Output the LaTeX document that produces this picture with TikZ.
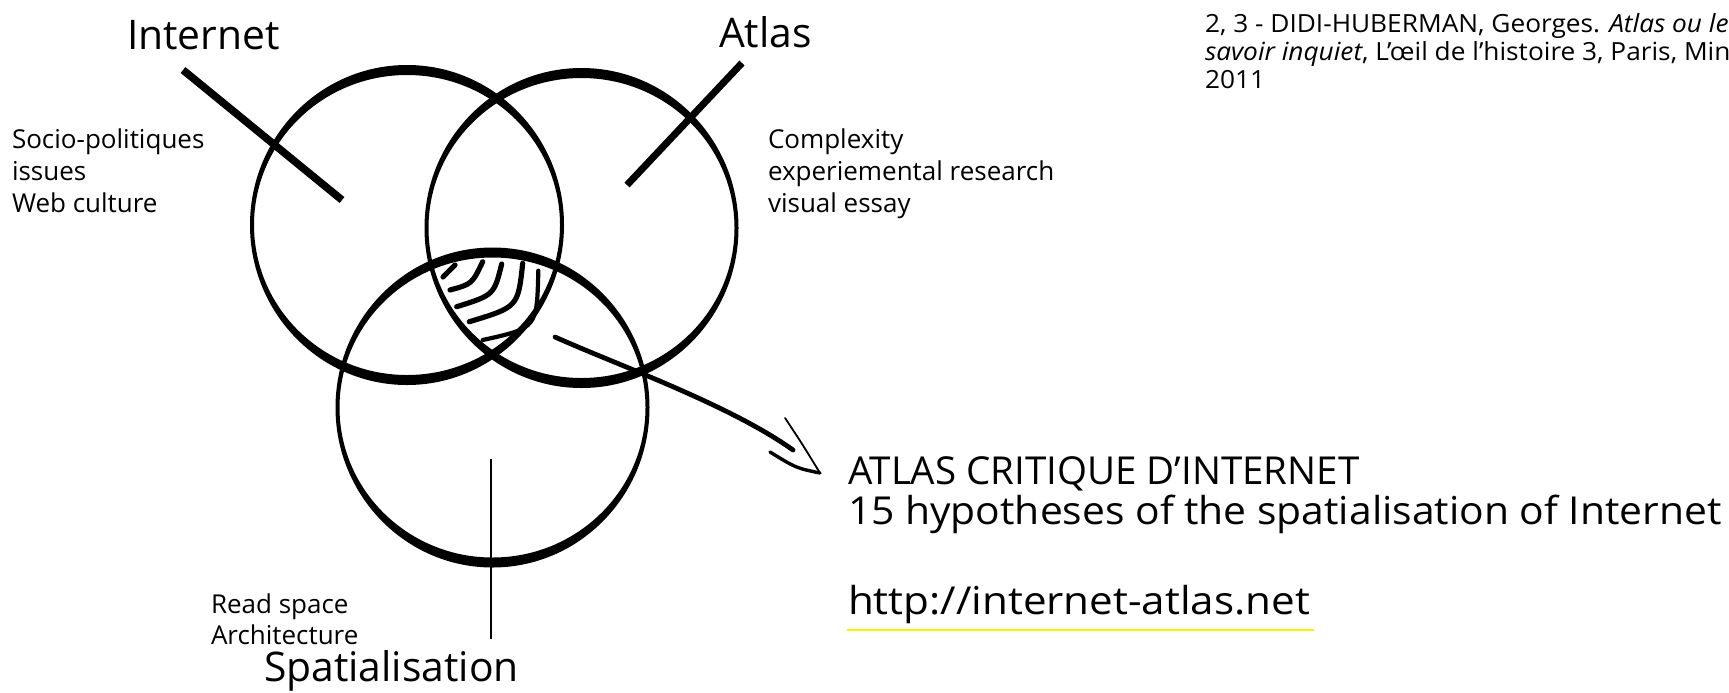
\documentclass[tikz,border=0pt]{standalone}
\usepackage{fontspec}
\setmainfont{Open Sans}
\begin{document}
\begin{tikzpicture}[x=0.5pt,y=-0.5pt,
  lbl/.style={anchor=base west,inner sep=0pt,outer sep=0pt},
  big/.style={lbl,font=\fontsize{20.4pt}{24pt}\selectfont},
  small/.style={lbl,font=\fontsize{13pt}{16pt}\selectfont},
  title/.style={lbl,font=\fontsize{19.25pt}{22pt}\selectfont},
  foot/.style={lbl,font=\fontsize{12.5pt}{14pt}\selectfont\addfontfeatures{FakeStretch=1.05}},
  pen/.style={line width=3.8pt,line cap=butt},
  thinpen/.style={line width=1.35pt},
  shaft/.style={line width=2.4pt,line cap=round},
  headpen/.style={line width=0.9pt,line cap=round},
  hatch/.style={line width=2.6pt,line cap=round},
  urlline/.style={draw=yellow,line width=1.4pt}]
\useasboundingbox (0,0) rectangle (1729,692);

% circles (calligraphic rings)
\coordinate (cI) at (407,225);
\coordinate (cA) at (581.5,228);
\coordinate (cS) at (492.5,407.5);
\foreach \c in {cI,cA,cS}{
  \fill[even odd rule] (\c) ellipse [x radius=157, y radius=160]
                       (\c) ellipse [x radius=153, y radius=150];
}

% strokes through the circles
\coordinate (i1) at (183,70);  \coordinate (i2) at (342,200);
\coordinate (a1) at (742,63);  \coordinate (a2) at (627,185);
\coordinate (s1) at (491,459); \coordinate (s2) at (491,639);
\draw[pen] (i1) -- (i2);
\draw[pen,line width=3.5pt] (a1) -- (a2);
\draw[thinpen] (s1) -- (s2);

% hatching in the triple intersection
\coordinate (h1a) at (443,277); \coordinate (h1b) at (455,265);
\coordinate (h2a) at (450,290); \coordinate (h2b) at (482.7,261.7);
\coordinate (h3a) at (456.7,306.7); \coordinate (h3b) at (501.7,264);
\coordinate (h4a) at (469.3,321.7); \coordinate (h4b) at (522.7,263.3);
\coordinate (h5a) at (482.7,340); \coordinate (h5b) at (538.3,270.7);
\draw[hatch] (h1a) -- (h1b);
\draw[hatch] (h2a) .. controls (472,284) .. (h2b);
\draw[hatch] (h3a) .. controls (494,295) .. (h3b);
\draw[hatch] (h4a) .. controls (518,307) .. (h4b);
\draw[hatch,line width=2.1pt] (h5a) .. controls (537,328) .. (h5b);

% arrow
\coordinate (aS) at (555,337);
\coordinate (aE) at (793,450);
\coordinate (tip) at (820,473);
\coordinate (hu) at (785,418);
\coordinate (hl) at (770,452);
\draw[shaft] (aS) .. controls (620,366) and (730,405) .. (aE);
\draw[headpen] (hu) .. controls (801,442) .. (tip);
\draw[headpen,line width=1.7pt] (hl) .. controls (796,468) .. (tip);

% labels
\node[big] (tInternet) at (127,49) {Internet};
\node[big] (tAtlas) at (719,47) {Atlas};
\node[big] (tSpat) at (264,681) {Spatialisation};

\node[small] (sI1) at (12,148) {Socio-politiques};
\node[small] (sI2) at (12,180) {issues};
\node[small] (sI3) at (12,212) {Web culture};

\node[small] (sA1) at (768,148) {Complexity};
\node[small] (sA2) at (768,180) {experiemental research};
\node[small] (sA3) at (768,212) {visual essay};

\node[small] (sS1) at (211,613) {Read space};
\node[small] (sS2) at (211,644) {Architecture};

\node[title] (tTitle) at (848,484) {ATLAS CRITIQUE D’INTERNET};
\node[title,font=\fontsize{19.25pt}{22pt}\selectfont\addfontfeatures{FakeStretch=1.06}] (tSub) at (848,524) {15 hypotheses of the spatialisation of Internet};
\node[title,font=\fontsize{19.25pt}{22pt}\selectfont\addfontfeatures{FakeStretch=1.095}] (tUrl) at (848,614) {http://internet-atlas.net};
\coordinate (u1) at (847,630); \coordinate (u2) at (1314,630);
\draw[urlline] (u1) -- (u2);

% footnote (cut by the picture's edge)
\begin{scope}
\clip (0,0) rectangle (1729,692);
\node[foot] (f1) at (1205,32) {2, 3 - DIDI-HUBERMAN, Georges. \textit{Atlas ou le gai}};
\node[foot] (f2) at (1205,60) {\textit{savoir inquiet}, L’œil de l’histoire 3, Paris, Minuit,};
\node[foot] (f3) at (1205,88) {2011};
\end{scope}
\end{tikzpicture}
\end{document}
